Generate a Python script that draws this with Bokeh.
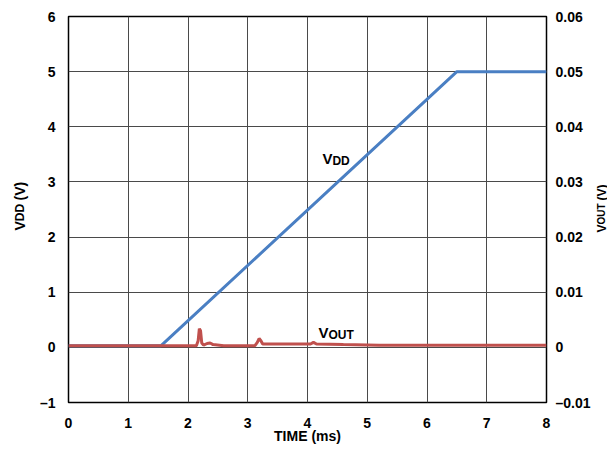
from bokeh.plotting import figure
from bokeh.models import Range1d, LinearAxis, FixedTicker, Label
from bokeh.layouts import row
from bokeh.embed import file_html
from bokeh.resources import INLINE
import math

# ---- data ----
time_vdd = [0.0, 1.55, 6.5, 8.0]
vdd = [0.03, 0.03, 5.0, 5.0]

time_vout = [0.0, 2.14, 2.17, 2.19, 2.21, 2.23, 2.26, 2.32, 2.37, 2.42, 2.6, 3.12,
             3.16, 3.19, 3.22, 3.25, 3.3, 3.6, 4.05, 4.1, 4.15, 4.6, 5.2, 8.0]
vout = [0.0003, 0.0003, 0.0012, 0.0034, 0.0030, 0.0008, 0.0004, 0.0007, 0.0008, 0.0005, 0.0003, 0.0003,
        0.0009, 0.0016, 0.0012, 0.0006, 0.0006, 0.0006, 0.0006, 0.0009, 0.0006, 0.0005, 0.0004, 0.0004]

x_ticks = [0, 1, 2, 3, 4, 5, 6, 7, 8]
y_ticks = [-1, 0, 1, 2, 3, 4, 5, 6]
y_tick_labels = ["–1", "0", "1", "2", "3", "4", "5", "6"]
y2_ticks = [-0.01, 0.0, 0.01, 0.02, 0.03, 0.04, 0.05, 0.06]
y2_tick_labels = ["–0.01", "0", "0.01", "0.02", "0.03", "0.04", "0.05", "0.06"]

FONT = "Liberation Sans"
H = 459
LW, RW = 30, 14            # widths of the side strips holding the axis titles
MW = 607 - LW - RW         # main figure width
FL, FR, FT, FB = 68, 548, 16, 402   # frame edges in page px

p = figure(width=MW, height=H, output_backend="svg", toolbar_location=None,
           x_range=Range1d(0, 8), y_range=Range1d(-1, 6),
           min_border_left=FL - LW, min_border_right=(LW + MW) - FR,
           min_border_top=FT, min_border_bottom=H - FB,
           y_axis_location=None)
p.extra_y_ranges = {"vout": Range1d(-0.01, 0.06)}
p.background_fill_color = "white"
p.border_fill_color = "white"
p.outline_line_color = "black"
p.outline_line_width = 1.5

left = LinearAxis(ticker=FixedTicker(ticks=y_ticks),
                  major_label_overrides={t: s for t, s in zip(y_ticks, y_tick_labels)})
right = LinearAxis(y_range_name="vout", ticker=FixedTicker(ticks=y2_ticks),
                   major_label_overrides={t: s for t, s in zip(y2_ticks, y2_tick_labels)})
p.add_layout(left, "left")
p.add_layout(right, "right")

p.xaxis.ticker = FixedTicker(ticks=x_ticks)
p.xaxis.axis_label = "TIME (ms)"

for ax in [p.xaxis[0], left, right]:
    ax.axis_line_color = None
    ax.major_tick_line_color = None
    ax.minor_tick_line_color = None
    ax.major_tick_out = 0
    ax.major_tick_in = 0
    ax.minor_tick_out = 0
    ax.major_label_text_font = FONT
    ax.major_label_text_font_style = "bold"
    ax.major_label_text_font_size = "14px"
    ax.major_label_text_color = "black"
    ax.axis_label_text_font = FONT
    ax.axis_label_text_font_style = "bold"
    ax.axis_label_text_font_size = "14px"
    ax.axis_label_text_color = "black"

p.xaxis.major_label_standoff = 15
p.xaxis.axis_label_standoff = -3
left.major_label_standoff = 13
right.major_label_standoff = 9

p.xgrid.ticker = FixedTicker(ticks=x_ticks)
p.ygrid.ticker = FixedTicker(ticks=y_ticks)
for g in [p.xgrid[0], p.ygrid[0]]:
    g.grid_line_color = "#4a4a4a"
    g.grid_line_width = 1
    g.grid_line_alpha = 1

p.line(time_vdd, vdd, line_color="#4a7fc3", line_width=3)
p.line(time_vout, vout, line_color="#c0504d", line_width=3, y_range_name="vout")


def lab(fig, x, y, text, size, angle=0.0):
    fig.add_layout(Label(x=x, y=y, text=text, text_font=FONT, text_font_style="bold",
                         text_font_size=size, text_color="black", angle=angle,
                         text_align="left", text_baseline="alphabetic"))

# in-plot labels
lab(p, 4.25, 3.428, "V", "15px")
lab(p, 4.417, 3.373, "DD", "12px")
lab(p, 4.183, 0.272, "V", "15px")
lab(p, 4.35, 0.218, "OUT", "12px")


def strip(width):
    # frame aligned with the main plot's frame; data units = page px
    f = figure(width=width, height=H, output_backend="svg", toolbar_location=None,
               x_range=Range1d(0, width), y_range=Range1d(FB, FT),
               min_border_left=0, min_border_right=0,
               min_border_top=FT, min_border_bottom=H - FB,
               x_axis_location=None, y_axis_location=None)
    f.outline_line_color = None
    f.xgrid.visible = False
    f.ygrid.visible = False
    f.background_fill_color = "white"
    f.border_fill_color = "white"
    return f

# left axis title
fl = strip(LW)
lab(fl, 19, 230, "V", "14px", angle=math.pi / 2)
lab(fl, 19, 220.7, "DD", "12px", angle=math.pi / 2)
lab(fl, 19, 200, "(V)", "14px", angle=math.pi / 2)

# right axis title at the page's right edge
fr = strip(RW)
x0 = 601 - (LW + MW)
lab(fr, x0, 232, "V", "12px", angle=math.pi / 2)
lab(fr, x0, 224, "OUT", "10px", angle=math.pi / 2)
lab(fr, x0, 200, "(V)", "12px", angle=math.pi / 2)

layout = row(fl, p, fr, spacing=0)
open("out.html", "w").write(file_html(layout, INLINE))
